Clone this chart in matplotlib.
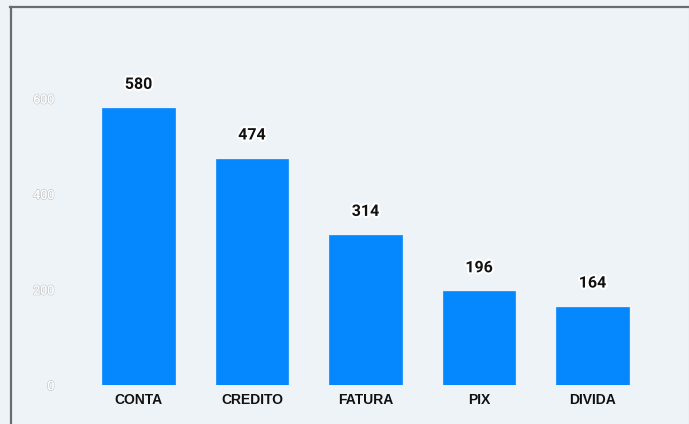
import matplotlib
matplotlib.use("Agg")
import matplotlib.pyplot as plt
import matplotlib.patheffects as pe
from matplotlib.lines import Line2D

categories = ["CONTA", "CREDITO", "FATURA", "PIX", "DIVIDA"]
values = [580, 474, 314, 196, 164]
yticks = [0, 200, 400, 600]

plt.rcParams['font.family'] = ['Roboto', 'DejaVu Sans']

W, H = 689, 424
fig = plt.figure(figsize=(W / 100, H / 100), dpi=100)
bg = '#eef3f8'
fig.patch.set_facecolor(bg)

ax_left, ax_right, ax_bottom, ax_top = 60, 680, 385, 30
ax = fig.add_axes([ax_left / W, (H - ax_bottom) / H, (ax_right - ax_left) / W, (ax_bottom - ax_top) / H])
ax.set_facecolor(bg)

step = 113.5
c0 = 138.5
ax.set_xlim((ax_left - c0) / step, (ax_right - c0) / step)
ppu = (385 - 108) / 580
ax.set_ylim(0, (ax_bottom - ax_top) / ppu)

x = list(range(len(categories)))
bars = ax.bar(x, values, width=0.643, color='#0588fd', edgecolor='#0588fd', linewidth=0.5)

for xi, v in zip(x, values):
    ax.annotate(str(v), (xi, v), xytext=(0, 17.0), textcoords='offset points',
                ha='center', va='center', fontsize=11.5, fontweight='bold', color='#111111',
                path_effects=[pe.withStroke(linewidth=3, foreground='white')])

ax.set_xticks(x)
ax.set_xticklabels(categories, fontsize=10, fontweight='bold', color='#111111',
                   family=['Liberation Sans', 'DejaVu Sans'])
ax.set_yticks(yticks)
ax.set_yticklabels([str(t) for t in yticks], fontsize=9, color='white')
for lbl in ax.get_yticklabels():
    lbl.set_path_effects([pe.withStroke(linewidth=1.2, foreground='#c8ccd0'), pe.Normal()])
ax.tick_params(axis='both', length=0)
ax.tick_params(axis='x', pad=5.5)
ax.tick_params(axis='y', pad=4)
for s in ax.spines.values():
    s.set_visible(False)

# frame border (partially visible)
fig.add_artist(Line2D([10 / W, 1.0], [1 - 6.5 / H, 1 - 6.5 / H], transform=fig.transFigure,
                      color='#6b6b6b', linewidth=1.6))
fig.add_artist(Line2D([11 / W, 11 / W], [0, 1 - 6.5 / H], transform=fig.transFigure,
                      color='#6b6b6b', linewidth=1.6))
fig.add_artist(Line2D([688.5 / W, 688.5 / W], [0, 1 - 6.5 / H], transform=fig.transFigure,
                      color='#c4c7ca', linewidth=0.8))

fig.savefig('out.png', dpi=100, facecolor=bg)
